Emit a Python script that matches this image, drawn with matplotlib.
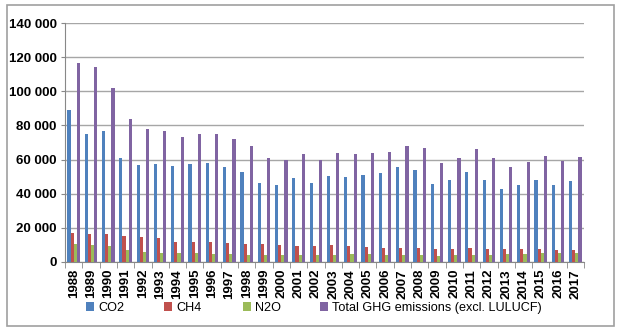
import matplotlib
matplotlib.use('Agg')
import matplotlib.pyplot as plt
import numpy as np
from matplotlib.patches import Rectangle, Patch

years = [str(y) for y in range(1988, 2018)]
co2 = [89000, 75000, 76500, 61000, 57000, 57500, 56000, 57500, 58000, 55500,
       53000, 46500, 45000, 49000, 46000, 50500, 49500, 50700, 51900, 55700,
       54000, 45600, 47800, 53000, 48100, 42500, 45000, 48000, 45200, 47400]
ch4 = [17000, 16600, 16200, 15200, 14800, 14000, 11900, 11900, 11700, 11300,
       10700, 10300, 10100, 9400, 9400, 9700, 9200, 8600, 8400, 8400,
       8000, 7600, 7600, 8000, 7600, 7400, 7400, 7400, 7000, 6800]
n2o = [10500, 9900, 9200, 7200, 5800, 5400, 5300, 5100, 4900, 4700,
       3900, 3900, 4100, 4100, 4100, 3900, 4700, 4500, 3900, 3900,
       4300, 3500, 4300, 3900, 3900, 4500, 4900, 5100, 5300, 5300]
total = [116800, 114400, 101900, 83600, 77800, 76800, 73100, 74700, 74700, 71800,
         68000, 60800, 59600, 63000, 59600, 64100, 63300, 63900, 64500, 68200,
         67000, 57900, 60800, 65900, 60800, 55400, 58500, 61800, 59100, 61400]

series = [('CO2', co2, '#4F81BD'),
          ('CH4', ch4, '#C0504D'),
          ('N2O', n2o, '#9BBB59'),
          ('Total GHG emissions (excl. LULUCF)', total, '#8064A2')]

plt.rcParams['font.family'] = ['Liberation Sans', 'DejaVu Sans']

fig = plt.figure(figsize=(6.24, 3.33), dpi=100)
ax = fig.add_axes([65/624, 1-262/333, (584-65)/624, (262-23)/333])

x = np.arange(len(years))
w = 1/5.5
for i, (name, vals, col) in enumerate(series):
    ax.bar(x + (i-1.5)*w, vals, width=w, color=col, label=name, zorder=3)

ax.set_xlim(-0.5, len(years)-0.5)
ax.set_ylim(0, 140000)
ax.set_yticks(np.arange(0, 140001, 20000))
ax.set_yticklabels(['{:,}'.format(v).replace(',', ' ') for v in range(0, 140001, 20000)],
                   fontsize=9.5, fontweight='bold')
ax.set_xticks(x)
ax.set_xticklabels(years, rotation=90, fontsize=9.5, fontweight='bold')
ax.set_xticks(np.arange(-0.5, len(years)), minor=True)
ax.tick_params(axis='x', which='major', length=0, pad=5)
ax.tick_params(axis='x', which='minor', length=4, color='#888888')
ax.tick_params(axis='y', length=3, color='#888888', pad=3)
ax.grid(axis='y', color='#a6a6a6', linewidth=1, zorder=0)
for s in ['top', 'right']:
    ax.spines[s].set_visible(False)
for s in ['left', 'bottom']:
    ax.spines[s].set_color('#888888')

# legend entries spaced evenly like the original
leg_x = [86, 164, 243, 320]
for (name, vals, col), lx in zip(series, leg_x):
    h = Patch(facecolor=col, edgecolor='none')
    fig.legend([h], [name], loc='center left', bbox_to_anchor=(lx/624, 1-308/333),
               frameon=False, fontsize=9.1, handlelength=0.65, handleheight=0.65,
               handletextpad=0.3, borderpad=0, borderaxespad=0)

# outer frame
fig.patches.append(Rectangle((7/624, 1-326/333), 607/624, 321/333, transform=fig.transFigure,
                             fill=False, edgecolor='#a0a0a0', linewidth=1.2))

fig.savefig('out.png', dpi=100)
